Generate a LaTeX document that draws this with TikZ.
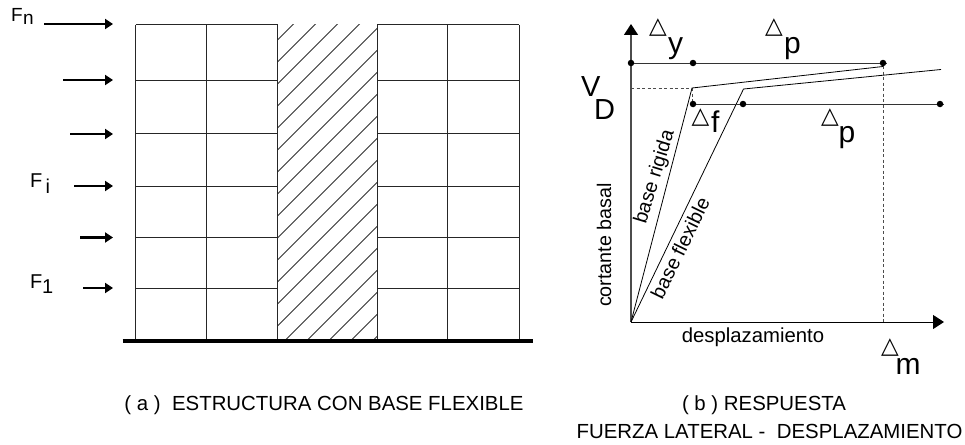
\documentclass[tikz,border=0pt]{standalone}
\usepackage{fontspec}
\setmainfont{Liberation Sans}
\newfontfamily\symfont{DejaVu Sans}
\usetikzlibrary{arrows.meta}
\tikzset{
  frameline/.style={line width=1pt,black!85},
  hatchline/.style={line width=0.8pt,black!80},
  force/.style={line width=2.5pt,-{Triangle[length=8pt,width=10pt]}},
  axisline/.style={-{Triangle[length=11pt,width=14pt,black]}},
  curve/.style={line width=0.8pt,black},
  guide/.style={line width=0.8pt,black!70,dash pattern=on 3pt off 2.5pt},
  dimline/.style={line width=1pt,black!80},
  dimdot/.style={circle,fill=black,inner sep=0pt,minimum size=6.5pt},
  lab/.style={inner sep=0pt,anchor=base west},
  tri/.style={inner sep=0pt,anchor=base,font=\symfont\fontsize{23}{23}\selectfont},
  big/.style={lab,font=\fontsize{30}{30}\selectfont},
  fl/.style={lab,font=\fontsize{20}{20}\selectfont},
  ax/.style={inner sep=0pt,font=\fontsize{19.7}{19.7}\selectfont},
  captxt/.style={inner sep=0pt,anchor=base,font=\fontsize{20.4}{20.4}\selectfont}
}
\begin{document}
\begin{tikzpicture}[x=1pt,y=-1pt]
\useasboundingbox (0,0) rectangle (965,444);
% hatch
\begin{scope}
\clip (277.5,25) rectangle (377,341);
\foreach \k in {0,...,18}{
  \pgfmathsetmacro{\c}{317.5+22*\k}
  \draw[hatchline] (277.5,\c-277.5) -- (377,\c-377);
}
\end{scope}
% frame
\foreach \yy in {25,80,133.5,186,237.5,288}{
  \draw[frameline] (135.5,\yy) -- (277.5,\yy);
  \draw[frameline] (377,\yy) -- (519,\yy);
}
\foreach \xx in {135.5,206,277.5,377,447,519}{
  \draw[frameline] (\xx,25) -- (\xx,341);
}
\draw[line width=4pt] (122.5,341) -- (533,341);
% forces
\coordinate (a1) at (44,24);   \coordinate (b1) at (113,24);
\coordinate (a2) at (63,80);   \coordinate (b2) at (113,80);
\coordinate (a3) at (70,134);  \coordinate (b3) at (113,134);
\coordinate (a4) at (74,186);  \coordinate (b4) at (113,186);
\coordinate (a5) at (80,237.5);\coordinate (b5) at (113,237.5);
\coordinate (a6) at (83,288);  \coordinate (b6) at (113,288);
\foreach \i in {1,...,6}{\draw[force] (a\i) -- (b\i);}
\node[fl,font=\fontsize{19}{19}\selectfont] (fn) at (11,21.7) {F};
\node[fl,font=\fontsize{19}{19}\selectfont] (fnn) at (23,25) {n};
\node[fl] (fi) at (30,187.7) {F};
\node[fl] (fii) at (45.5,193) {i};
\node[fl] (f1) at (30,288) {F};
\node[fl] (f11) at (42,293) {1};
% chart
\coordinate (O) at (631,322);
\coordinate (Yt) at (631,24);
\coordinate (Xt) at (944,322);
\draw[axisline,line width=1.3pt,black!70] (O) -- (Yt);
\draw[axisline,line width=1pt] (O) -- (Xt);
\coordinate (R1) at (692,88);
\coordinate (R2) at (883,66.5);
\coordinate (S1) at (743.5,89);
\coordinate (S2) at (941,69.5);
\draw[guide] (631,88) -- (R1);
\draw[guide] (692.5,88) -- (692.5,104);
\draw[guide] (883,66) -- (883,322);
\draw[curve] (O) -- (R1) -- (R2);
\draw[curve] (O) -- (S1) -- (S2);
% dimension lines
\node[dimdot] (d1) at (631,63) {};
\node[dimdot] (d2) at (693,63) {};
\node[dimdot] (d3) at (883,63) {};
\coordinate (d3e) at (887,63);
\draw[dimline] (d1) -- (d2) -- (d3) -- (d3e);
\node[dimdot] (e1) at (693,104) {};
\node[dimdot] (e2) at (743,104) {};
\node[dimdot] (e3) at (940,104) {};
\coordinate (e3e) at (944,104);
\draw[dimline] (e1) -- (e2) -- (e3) -- (e3e);
% delta labels
\node[tri] (ty) at (658,34) {△};
\node[big] (ly) at (668,53) {y};
\node[tri] (tp) at (774,34) {△};
\node[big] (lp) at (784,53) {p};
\node[tri] (tf) at (700.5,123) {△};
\node[big] (lf) at (711,132.7) {f};
\node[tri] (tp2) at (830,123) {△};
\node[big] (lp2) at (838.5,142) {p};
\node[tri] (tm) at (890,353) {△};
\node[big] (lm) at (895.5,374) {m};
\node[big,font=\fontsize{29}{29}\selectfont] (lv) at (581,96) {V};
\node[big,font=\fontsize{29}{29}\selectfont] (ld) at (594,119) {D};
% rotated labels
\node[ax,rotate=90] (cb) at (604,245) {cortante basal};
\node[ax,rotate=73] (br) at (655,177) {base rigida};
\node[ax,rotate=64] (bf) at (680,248) {base flexible};
\node[ax,font=\fontsize{20.3}{20.3}\selectfont] (dz) at (753,337) {desplazamiento};
% captions
\node[captxt] (c1) at (324,410) {( a )\ \ ESTRUCTURA CON BASE FLEXIBLE};
\node[captxt] (c2) at (764,410) {( b ) RESPUESTA};
\node[captxt] (c3) at (769.5,438) {FUERZA LATERAL -\ \ DESPLAZAMIENTO};
\end{tikzpicture}
\end{document}
